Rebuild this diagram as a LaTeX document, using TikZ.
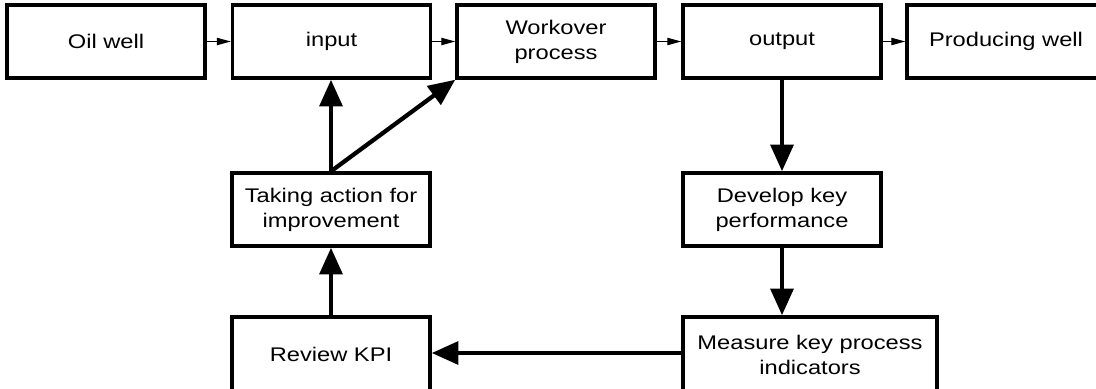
\documentclass[tikz,border=0pt]{standalone}
\usepackage{fontspec}
\setmainfont{Liberation Sans}[FakeStretch=1.2]
\usetikzlibrary{arrows.meta}
\tikzset{
  box/.style={draw, line width=2.6pt, inner sep=0pt, align=center,
    minimum width=148.5pt, minimum height=54.75pt,
    font=\fontsize{14.8}{18.75}\selectfont},
  thin/.style={line width=0.8pt, -{Triangle[length=10.5pt,width=5.5pt]}},
  thick/.style={line width=3.2pt, -{Triangle[length=20pt,width=17pt]}}
}
\begin{document}
\begin{tikzpicture}[x=0.75pt,y=-0.75pt]
\useasboundingbox (0,0) rectangle (1096,389);
\node[box] (oil) at (106,41.5) {Oil well};
\node[box] (input) at (331.5,41.5) {input};
\node[box] (work) at (556,41.5) {Workover\\process};
\node[box] (output) at (782,41.5) {output};
\node[box] (prod) at (1006,41.5) {Producing well};
\node[box] (take) at (331,209.5) {Taking action for\\improvement};
\node[box] (dev) at (782,209.5) {Develop key\\performance};
\node[box, minimum height=56.25pt] (review) at (331,354.5) {Review KPI};
\node[box, minimum height=56.25pt, minimum width=190.5pt] (meas) at (810,354.5) {Measure key process\\indicators};
\draw[thin] (oil.east) -- (input.west);
\draw[thin] (input.east) -- (work.west);
\draw[thin] (work.east) -- (output.west);
\draw[thin] (output.east) -- (prod.west);
\draw[thick] (output.south) -- (dev.north);
\draw[thick] (dev.south) -- (dev.south |- meas.north);
\draw[thick] (meas.west |- 0,353) -- (review.east |- 0,353);
\draw[thick] (review.north) -- (take.south);
\draw[thick] (take.north) -- (take.north |- input.south);
\draw[thick] (take.north) -- (work.south west);
\end{tikzpicture}
\end{document}
